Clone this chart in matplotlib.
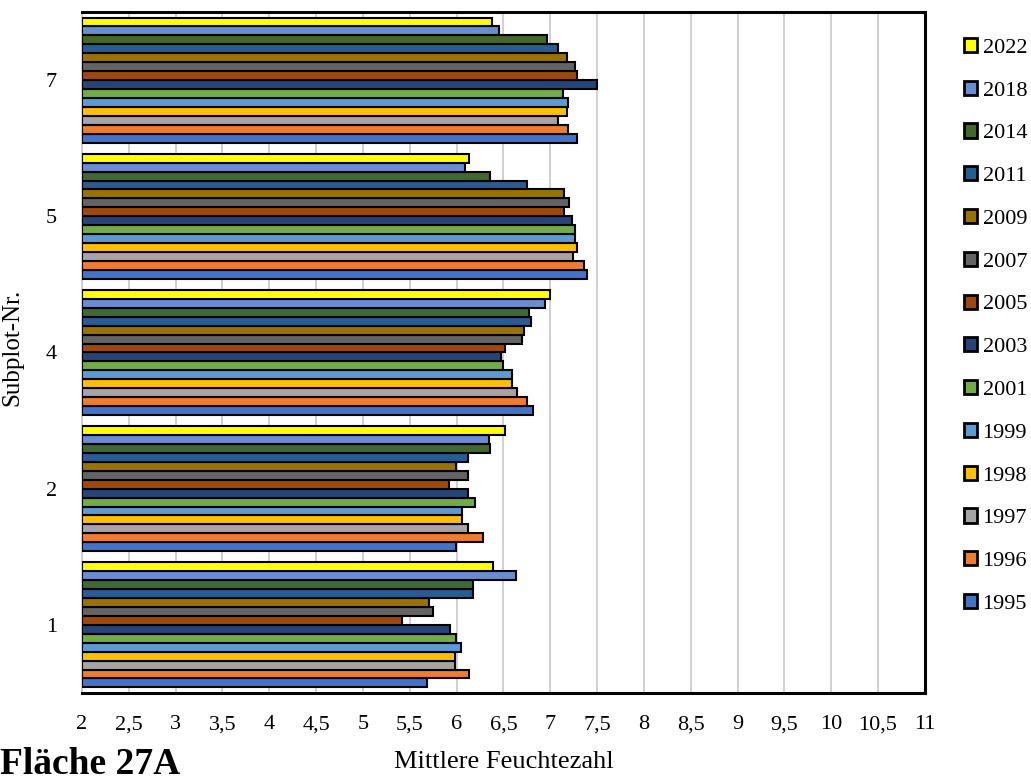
import matplotlib
matplotlib.use("Agg")
import matplotlib.pyplot as plt
import numpy as np

plt.rcParams['font.family'] = ['Liberation Serif', 'DejaVu Serif']

# Subplots (categories, bottom to top)
subplots = ["1", "2", "4", "5", "7"]

# Survey years, bottom bar to top bar within each subplot group
years = ["1995", "1996", "1997", "1998", "1999", "2001", "2003",
         "2005", "2007", "2009", "2011", "2014", "2018", "2022"]

colors = ["#4472C4", "#ED7D31", "#A5A5A5", "#FFC000", "#5B9BD5", "#70AD47",
          "#264478", "#9E480E", "#636363", "#997300", "#255E91", "#43682B",
          "#698ED0", "#FFFF00"]

# Mean moisture indicator value per subplot, one list per year
v1995 = [5.68, 5.99, 6.82, 7.39, 7.29]
v1996 = [6.13, 6.28, 6.75, 7.36, 7.19]
v1997 = [5.98, 6.12, 6.65, 7.24, 7.08]
v1998 = [5.98, 6.06, 6.59, 7.29, 7.18]
v1999 = [6.05, 6.06, 6.59, 7.26, 7.19]
v2001 = [5.99, 6.20, 6.50, 7.26, 7.14]
v2003 = [5.93, 6.12, 6.47, 7.23, 7.50]
v2005 = [5.42, 5.92, 6.52, 7.15, 7.29]
v2007 = [5.75, 6.12, 6.70, 7.20, 7.27]
v2009 = [5.71, 5.99, 6.72, 7.15, 7.18]
v2011 = [6.18, 6.12, 6.80, 6.75, 7.08]
v2014 = [6.18, 6.36, 6.77, 6.36, 6.97]
v2018 = [6.64, 6.35, 6.94, 6.09, 6.45]
v2022 = [6.39, 6.52, 7.00, 6.13, 6.38]

series = [v1995, v1996, v1997, v1998, v1999, v2001, v2003,
          v2005, v2007, v2009, v2011, v2014, v2018, v2022]

x_ticks = [2, 2.5, 3, 3.5, 4, 4.5, 5, 5.5, 6, 6.5, 7, 7.5, 8, 8.5,
           9, 9.5, 10, 10.5, 11]
x_ticklabels = [f"{t:g}".replace(".", ",") for t in x_ticks]

fig = plt.figure(figsize=(10.31, 7.82), dpi=100)
ax = fig.add_axes([0.0795, 0.1138, 0.8175, 0.8709])

n = len(years)
bar_h = 0.918 / n
y = np.arange(len(subplots))
handles = []
for i, (yr, vals, c) in enumerate(zip(years, series, colors)):
    offs = (i - (n - 1) / 2) * bar_h
    b = ax.barh(y + offs, np.array(vals) - 2, left=2, height=bar_h,
                color=c, edgecolor="black", linewidth=1.5, label=yr, zorder=3)
    handles.append(b)

ax.set_xlim(2, 11)
ax.set_ylim(-0.5, len(subplots) - 0.5)
ax.set_xticks(x_ticks)
ax.set_xticklabels(x_ticklabels, fontsize=16)
ax.set_yticks(y)
ax.set_yticklabels(subplots, fontsize=16)
ax.tick_params(axis="x", length=0, pad=16)
ax.tick_params(axis="y", length=0, pad=18)

ax.grid(axis="x", color="#D0D0D0", linewidth=1.4, zorder=0)
ax.set_axisbelow(True)
for side in ("top", "right", "bottom"):
    ax.spines[side].set_color("black")
    ax.spines[side].set_linewidth(2.2)
ax.spines["left"].set_color("#C8C8C8")
ax.spines["left"].set_linewidth(1.2)

ax.set_xlabel("Mittlere Feuchtezahl", fontsize=19)
ax.xaxis.set_label_coords(0.5, -0.085)
ax.set_ylabel("Subplot-Nr.", fontsize=18)
ax.yaxis.set_label_coords(-0.070, 0.507)

leg = ax.legend(handles[::-1], years[::-1], loc="upper left",
                bbox_to_anchor=(1.0356, 0.975), frameon=False, fontsize=16,
                handlelength=0.6, handleheight=0.6, handletextpad=0.25,
                labelspacing=1.03, borderaxespad=0)
for h in leg.legend_handles:
    h.set_linewidth(2.0)

fig.text(0.0, 0.0, "Fläche 27A", fontsize=27, fontweight="bold",
         ha="left", va="bottom")

fig.savefig("out.png", dpi=100)
